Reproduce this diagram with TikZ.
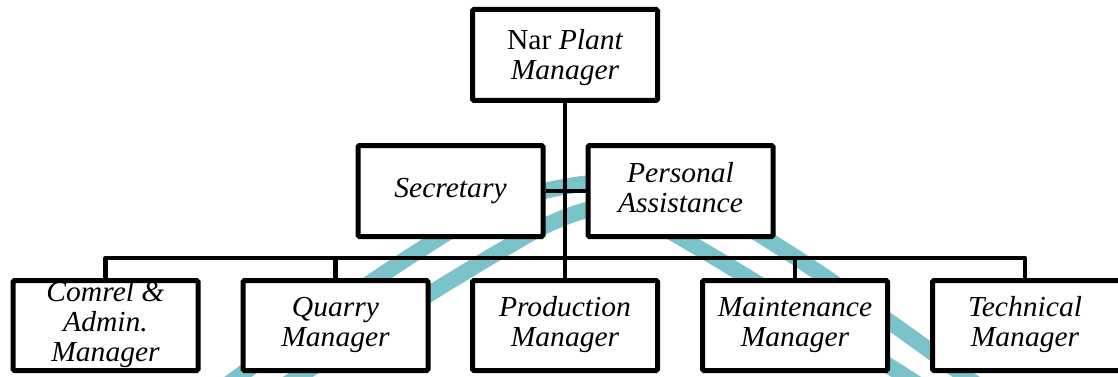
\documentclass[tikz,border=0pt]{standalone}
\usepackage{fontspec}
\setmainfont{Liberation Serif}[FakeStretch=1.02]
\definecolor{wmteal}{RGB}{123,195,203}
\newcommand\tallstrut{\rule{0pt}{29pt}}
\begin{document}
\begin{tikzpicture}[x=1pt,y=-1pt,
  box/.style={draw=black, line width=5pt, fill=white, rounded corners=1.5pt,
    minimum width=185pt, inner sep=0pt, align=center,
    font=\fontsize{29}{30}\selectfont\itshape},
  upbox/.style={box, minimum height=91pt},
  lowbox/.style={box, minimum height=90pt},
  link/.style={line width=4.5pt, line join=round},
  band/.style={line width=16pt, wmteal, line cap=butt}]
\clip (0,0) rectangle (1118,377);
% watermark arches
\draw[band] plot[smooth, tension=0.55] coordinates {(200,405) (220,390) (300,332) (370,283) (420,250) (470,220) (530,195) (575,185) (602,183) (629,185) (674,195) (734,220) (784,250) (834,283) (904,332) (984,390) (1004,405)};
\draw[band] plot[smooth, tension=0.55] coordinates {(262,400) (282,387) (352,342.5) (402,311) (452,280) (502,250) (552,222.6) (602,208) (652,222.6) (702,250) (752,280) (802,311) (852,342.5) (922,387) (942,400)};
% nodes
\node[upbox] (top) at (565,55) {\tallstrut{\upshape Nar} Plant\\Manager\strut};
\node[upbox] (sec) at (450.5,191) {\strut Secretary\strut};
\node[upbox] (pa) at (680.5,191) {\strut Personal\\Assistance\strut};
\node[lowbox] (cad) at (105.5,325.5) {\strut Comrel \&\\Admin.\\Manager\strut};
\node[lowbox] (qm) at (335.5,325.5) {\strut Quarry\\Manager\strut};
\node[lowbox] (pm) at (565,325.5) {\strut Production\\Manager\strut};
\node[lowbox] (mm) at (795,325.5) {\strut Maintenance\\Manager\strut};
\node[lowbox, minimum width=205pt] (tm) at (1035,325.5) {\strut Technical\hspace*{20pt}\\Manager\hspace*{20pt}\strut};
\coordinate (bus) at (565,258);
\coordinate (tmx) at (1025,258);
% connectors
\draw[link] (top.south) -- (pm.north);
\draw[link] (sec.east) -- (pa.west);
\draw[link] (cad.north) |- (tmx) -- (tmx |- tm.north);
\draw[link] (qm.north) -- (qm.north |- bus);
\draw[link] (mm.north) -- (mm.north |- bus);
\end{tikzpicture}
\end{document}
